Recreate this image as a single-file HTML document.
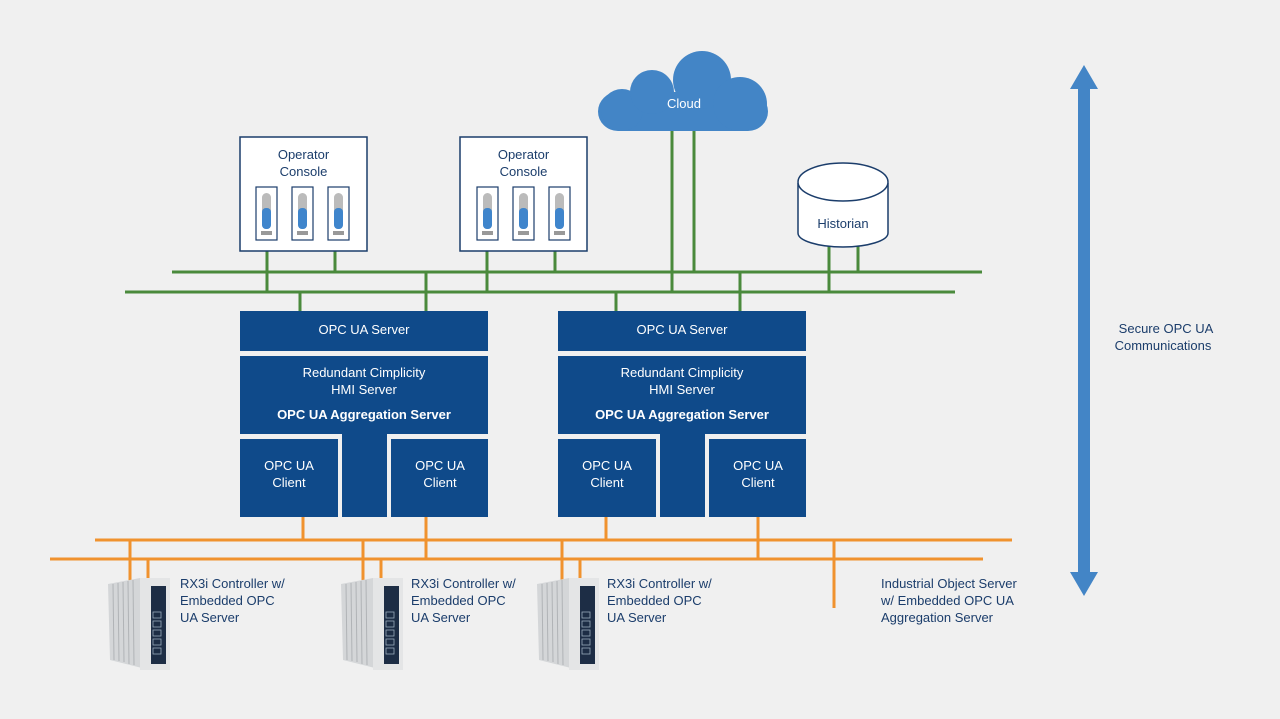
<!DOCTYPE html>
<html><head><meta charset="utf-8"><style>
body{margin:0;background:#f0f0f0;}
svg{display:block;font-family:"Liberation Sans",sans-serif;}
</style></head><body>
<svg width="1280" height="719" viewBox="0 0 1280 719" xmlns="http://www.w3.org/2000/svg">
<rect width="1280" height="719" fill="#f0f0f0"/>
<g stroke="#4a8a3c" stroke-width="3" fill="none">
<line x1="172" y1="272" x2="982" y2="272"/>
<line x1="125" y1="292" x2="955" y2="292"/>
<line x1="267" y1="251" x2="267" y2="292"/>
<line x1="335" y1="251" x2="335" y2="272"/>
<line x1="487" y1="251" x2="487" y2="292"/>
<line x1="555" y1="251" x2="555" y2="272"/>
<line x1="300" y1="292" x2="300" y2="311"/>
<line x1="426" y1="272" x2="426" y2="311"/>
<line x1="616" y1="292" x2="616" y2="311"/>
<line x1="740" y1="272" x2="740" y2="311"/>
<line x1="672" y1="125" x2="672" y2="292"/>
<line x1="694" y1="125" x2="694" y2="272"/>
<line x1="829" y1="245" x2="829" y2="292"/>
<line x1="858" y1="245" x2="858" y2="272"/>
</g>
<g stroke="#f0922e" stroke-width="3" fill="none">
<line x1="95" y1="540" x2="1012" y2="540"/>
<line x1="50" y1="559" x2="983" y2="559"/>
<line x1="303" y1="517" x2="303" y2="540"/>
<line x1="426" y1="517" x2="426" y2="559"/>
<line x1="606" y1="517" x2="606" y2="540"/>
<line x1="758" y1="517" x2="758" y2="559"/>
<line x1="130" y1="540" x2="130" y2="582"/>
<line x1="148" y1="559" x2="148" y2="582"/>
<line x1="363" y1="540" x2="363" y2="582"/>
<line x1="381" y1="559" x2="381" y2="582"/>
<line x1="562" y1="540" x2="562" y2="582"/>
<line x1="580" y1="559" x2="580" y2="582"/>
<line x1="834" y1="540" x2="834" y2="608"/>
</g>
<rect x="240" y="137" width="127" height="114" fill="#fff" stroke="#1b3d6b" stroke-width="1.5"/>
<text x="303.5" y="159" font-size="13" fill="#1b3d6b" text-anchor="middle">Operator</text>
<text x="303.5" y="176" font-size="13" fill="#1b3d6b" text-anchor="middle">Console</text>
<g id="th"><rect x="256" y="187" width="21" height="53" fill="#fff" stroke="#1b3d6b" stroke-width="1.2"/><rect x="262" y="193" width="9" height="36" rx="4.5" fill="#bbb"/><rect x="262" y="208" width="9" height="21" rx="4" fill="#3f85cc"/><rect x="261" y="231" width="11" height="4" fill="#999"/></g>
<use href="#th" transform="translate(36,0)"/>
<use href="#th" transform="translate(72,0)"/>
<rect x="460" y="137" width="127" height="114" fill="#fff" stroke="#1b3d6b" stroke-width="1.5"/>
<text x="523.5" y="159" font-size="13" fill="#1b3d6b" text-anchor="middle">Operator</text>
<text x="523.5" y="176" font-size="13" fill="#1b3d6b" text-anchor="middle">Console</text>
<use href="#th" transform="translate(221,0)"/>
<use href="#th" transform="translate(257,0)"/>
<use href="#th" transform="translate(293,0)"/>
<g fill="#4385c6">
<rect x="598" y="92" width="170" height="39" rx="20"/>
<circle cx="622" cy="110" r="21"/>
<circle cx="652" cy="92" r="22"/>
<circle cx="702" cy="80" r="29"/>
<circle cx="740" cy="104" r="27"/>
</g>
<text x="684" y="108" font-size="13" fill="#fff" text-anchor="middle">Cloud</text>
<path d="M798,183 L798,233 A45,14 0 0 0 888,233 L888,183" fill="#fff" stroke="#1b3d6b" stroke-width="1.5"/>
<ellipse cx="843" cy="182" rx="45" ry="19" fill="#fff" stroke="#1b3d6b" stroke-width="1.5"/>
<text x="843" y="228" font-size="13" fill="#1b3d6b" text-anchor="middle">Historian</text>
<g fill="#0f4a8a">
<rect x="240" y="311" width="248" height="40"/>
<rect x="240" y="356" width="248" height="78"/>
<rect x="342" y="430" width="45" height="87"/>
<rect x="240" y="439" width="98" height="78"/>
<rect x="391" y="439" width="97" height="78"/>
<rect x="558" y="311" width="248" height="40"/>
<rect x="558" y="356" width="248" height="78"/>
<rect x="660" y="430" width="45" height="87"/>
<rect x="558" y="439" width="98" height="78"/>
<rect x="709" y="439" width="97" height="78"/>
</g>
<g fill="#fff" font-size="13" text-anchor="middle">
<text x="364" y="334">OPC UA Server</text>
<text x="364" y="377">Redundant Cimplicity</text>
<text x="364" y="394">HMI Server</text>
<text x="364" y="419" font-weight="bold">OPC UA Aggregation Server</text>
<text x="289" y="470">OPC UA</text><text x="289" y="487">Client</text>
<text x="440" y="470">OPC UA</text><text x="440" y="487">Client</text>
<text x="682" y="334">OPC UA Server</text>
<text x="682" y="377">Redundant Cimplicity</text>
<text x="682" y="394">HMI Server</text>
<text x="682" y="419" font-weight="bold">OPC UA Aggregation Server</text>
<text x="607" y="470">OPC UA</text><text x="607" y="487">Client</text>
<text x="758" y="470">OPC UA</text><text x="758" y="487">Client</text>
</g>
<g id="ctl">
<path d="M108,584 L140,578 L142,668 L110,660 Z" fill="#d4d6d8"/>
<g stroke="#b0b3b6" stroke-width="1"><line x1="113" y1="584" x2="114" y2="660"/><line x1="118" y1="583" x2="119" y2="661"/><line x1="123" y1="582" x2="124" y2="662"/><line x1="128" y1="581" x2="129" y2="664"/><line x1="133" y1="580" x2="134" y2="665"/></g>
<rect x="140" y="578" width="30" height="92" fill="#e4e5e6"/>
<rect x="151" y="586" width="15" height="78" fill="#1d2d45"/>
<g fill="none" stroke="#9ab" stroke-width="0.8"><rect x="153" y="612" width="8" height="6"/><rect x="153" y="621" width="8" height="6"/><rect x="153" y="630" width="8" height="6"/><rect x="153" y="639" width="8" height="6"/><rect x="153" y="648" width="8" height="6"/></g>
</g>
<use href="#ctl" transform="translate(233,0)"/>
<use href="#ctl" transform="translate(429,0)"/>
<g fill="#1b3d6b" font-size="13">
<text x="180" y="588">RX3i Controller w/</text><text x="180" y="605">Embedded OPC</text><text x="180" y="622">UA Server</text>
<text x="411" y="588">RX3i Controller w/</text><text x="411" y="605">Embedded OPC</text><text x="411" y="622">UA Server</text>
<text x="607" y="588">RX3i Controller w/</text><text x="607" y="605">Embedded OPC</text><text x="607" y="622">UA Server</text>
<text x="881" y="588">Industrial Object Server</text><text x="881" y="605">w/ Embedded OPC UA</text><text x="881" y="622">Aggregation Server</text>
<text x="1166" y="333" text-anchor="middle">Secure OPC UA</text>
<text x="1163" y="350" text-anchor="middle">Communications</text>
</g>
<path d="M1084,65 L1098,89 L1090,89 L1090,572 L1098,572 L1084,596 L1070,572 L1078,572 L1078,89 L1070,89 Z" fill="#4385c6"/>
</svg>
</body></html>
